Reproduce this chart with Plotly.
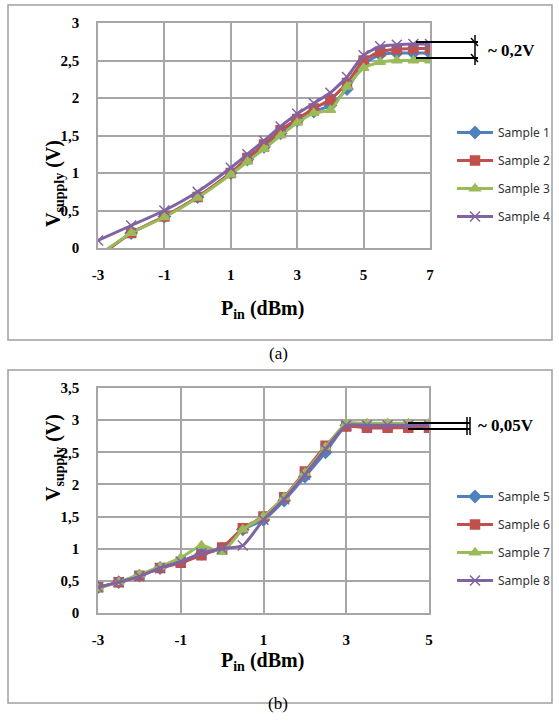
import plotly.graph_objects as go

# chart (a)
x_a = [-3, -2, -1, 0, 1, 1.5, 2, 2.5, 3, 3.5, 4, 4.5, 5, 5.5, 6, 6.5, 7]
s1 = [-0.12, 0.2, 0.42, 0.68, 1.0, 1.18, 1.35, 1.53, 1.7, 1.82, 1.9, 2.12, 2.45, 2.58, 2.6, 2.6, 2.6]
s2 = [-0.12, 0.2, 0.42, 0.68, 1.0, 1.2, 1.38, 1.57, 1.72, 1.86, 1.98, 2.2, 2.5, 2.62, 2.65, 2.66, 2.66]
s3 = [-0.1, 0.2, 0.41, 0.67, 0.98, 1.15, 1.32, 1.5, 1.67, 1.8, 1.84, 2.15, 2.4, 2.48, 2.5, 2.5, 2.5]
s4 = [0.1, 0.3, 0.5, 0.75, 1.07, 1.25, 1.43, 1.62, 1.79, 1.93, 2.07, 2.28, 2.57, 2.69, 2.71, 2.72, 2.72]

# chart (b)
x_b = [-3, -2.5, -2, -1.5, -1, -0.5, 0, 0.5, 1, 1.5, 2, 2.5, 3, 3.5, 4, 4.5, 5]
s5 = [0.4, 0.48, 0.58, 0.7, 0.8, 0.92, 1.0, 1.3, 1.45, 1.75, 2.12, 2.5, 2.92, 2.9, 2.9, 2.9, 2.9]
s6 = [0.4, 0.48, 0.58, 0.7, 0.78, 0.9, 1.02, 1.32, 1.5, 1.8, 2.2, 2.6, 2.9, 2.88, 2.88, 2.88, 2.88]
s7 = [0.38, 0.48, 0.6, 0.72, 0.86, 1.05, 0.95, 1.3, 1.5, 1.8, 2.18, 2.58, 2.95, 2.95, 2.95, 2.95, 2.95]
s8 = [0.4, 0.48, 0.57, 0.7, 0.8, 0.93, 1.0, 1.05, 1.45, 1.77, 2.15, 2.55, 2.92, 2.92, 2.92, 2.92, 2.92]

xticks_a = [-3, -1, 1, 3, 5, 7]
xticks_b = [-3, -1, 1, 3, 5]

W, H = 559, 726
colors = ["#4F81BD", "#C0504D", "#9BBB59", "#8064A2"]
symbols = ["diamond", "square", "triangle-up", "x-thin-open"]
serif = "Liberation Serif"
grid = "#A6A6A6"


def px(x):
    return x / W


def py(y):
    return 1 - y / H


fig = go.Figure()

for i, s in enumerate([s1, s2, s3, s4]):
    fig.add_trace(go.Scatter(
        x=x_a, y=s, name="Sample %d" % (i + 1), mode="lines+markers",
        line=dict(color=colors[i], width=3, shape="spline", smoothing=0.5),
        marker=dict(symbol=symbols[i], size=9 if i < 3 else 10, color=colors[i],
                    line=dict(color=colors[i], width=1.5)),
        xaxis="x", yaxis="y", legend="legend", legendgroup="a%d" % i))

for i, s in enumerate([s5, s6, s7, s8]):
    fig.add_trace(go.Scatter(
        x=x_b, y=s, name="Sample %d" % (i + 5), mode="lines+markers",
        line=dict(color=colors[i], width=3, shape="spline", smoothing=0.5),
        marker=dict(symbol=symbols[i], size=9 if i < 3 else 10, color=colors[i],
                    line=dict(color=colors[i], width=1.5)),
        xaxis="x2", yaxis="y2", legend="legend2", legendgroup="b%d" % i))

axis_common = dict(showgrid=True, gridcolor=grid, gridwidth=1.5, showline=True,
                   linecolor=grid, linewidth=1.5, mirror=True, zeroline=False,
                   automargin=False, ticks="", ticklen=0,
                   tickfont=dict(family=serif, size=15, color="black", weight="bold"))

fig.update_layout(
    width=W, height=H, margin=dict(l=0, r=0, t=0, b=0, autoexpand=False),
    paper_bgcolor="white", plot_bgcolor="white",
    separators=", ",
    xaxis=dict(domain=[px(98), px(430)], anchor="y", range=[-3, 7],
               tickvals=xticks_a, ticktext=[str(v) for v in xticks_a],
               ticklabelstandoff=12, **axis_common),
    yaxis=dict(domain=[py(248), py(23)], anchor="x", range=[0, 3], dtick=0.5,
               ticklabelstandoff=14, **axis_common),
    xaxis2=dict(domain=[px(98), px(429)], anchor="y2", range=[-3, 5],
                tickvals=xticks_b, ticktext=[str(v) for v in xticks_b],
                ticklabelstandoff=12, **axis_common),
    yaxis2=dict(domain=[py(613), py(388)], anchor="x2", range=[0, 3.5], dtick=0.5,
                ticklabelstandoff=14, **axis_common),
    legend=dict(x=px(452), y=py(118), xanchor="left", yanchor="top",
                font=dict(family="Noto Sans", size=12, color="#333333"),
                tracegroupgap=9, itemwidth=36, bgcolor="rgba(0,0,0,0)"),
    legend2=dict(x=px(452), y=py(482), xanchor="left", yanchor="top",
                 font=dict(family="Noto Sans", size=12, color="#333333"),
                 tracegroupgap=9, itemwidth=36, bgcolor="rgba(0,0,0,0)"),
)

shapes = []
# outer frames
for y0, y1 in [(5, 340), (370, 703)]:
    shapes.append(dict(type="rect", xref="paper", yref="paper", x0=px(8), x1=px(552),
                       y0=py(y1), y1=py(y0), line=dict(color="#A0A0A0", width=1.5)))


def seg(x0, y0, x1, y1, w=2):
    shapes.append(dict(type="line", xref="paper", yref="paper", x0=px(x0), y0=py(y0),
                       x1=px(x1), y1=py(y1), line=dict(color="black", width=w)))


# ~0,2V marker
seg(416, 42, 478, 42)
seg(416, 58, 478, 58)
seg(475, 35, 475, 65, 1.5)
seg(471, 38, 478, 46, 1.5)
seg(471, 54, 478, 62, 1.5)
# ~0,05V marker
seg(408, 423, 470, 423)
seg(408, 429, 470, 429)
seg(467, 417, 467, 435, 1.5)
seg(470, 417, 470, 435, 1.5)
fig.update_layout(shapes=shapes)

ann = [
    dict(x=px(486), y=py(50), text="<b>~ 0,2V</b>", size=17),
    dict(x=px(476), y=py(425), text="<b>~ 0,05V</b>", size=17),
]
annotations = []
for a in ann:
    annotations.append(dict(x=a["x"], y=a["y"], xref="paper", yref="paper", text=a["text"],
                            showarrow=False, xanchor="left", yanchor="middle",
                            font=dict(family=serif, size=a["size"], color="black")))
for yc in [138, 503]:
    annotations.append(dict(x=px(40), y=py(yc), xref="paper", yref="paper",
                            text="<b>V<sub>supply</sub> (V)</b>", textangle=-90, showarrow=False,
                            font=dict(family=serif, size=20, color="black")))
for yc in [309, 676]:
    annotations.append(dict(x=px(262), y=py(yc), xref="paper", yref="paper",
                            text="<b>P<sub>in</sub> (dBm)</b>", showarrow=False,
                            font=dict(family=serif, size=20, color="black")))
annotations.append(dict(x=px(278), y=py(353), xref="paper", yref="paper", text="(a)",
                        showarrow=False, font=dict(family=serif, size=17, color="black")))
annotations.append(dict(x=px(278), y=py(715), xref="paper", yref="paper", text="(b)",
                        showarrow=False, font=dict(family=serif, size=17, color="black")))
fig.update_layout(annotations=annotations)

fig.write_html("out.html", config={"displayModeBar": False},
               post_script="document.body.style.margin='0';document.body.style.overflow='hidden';")
